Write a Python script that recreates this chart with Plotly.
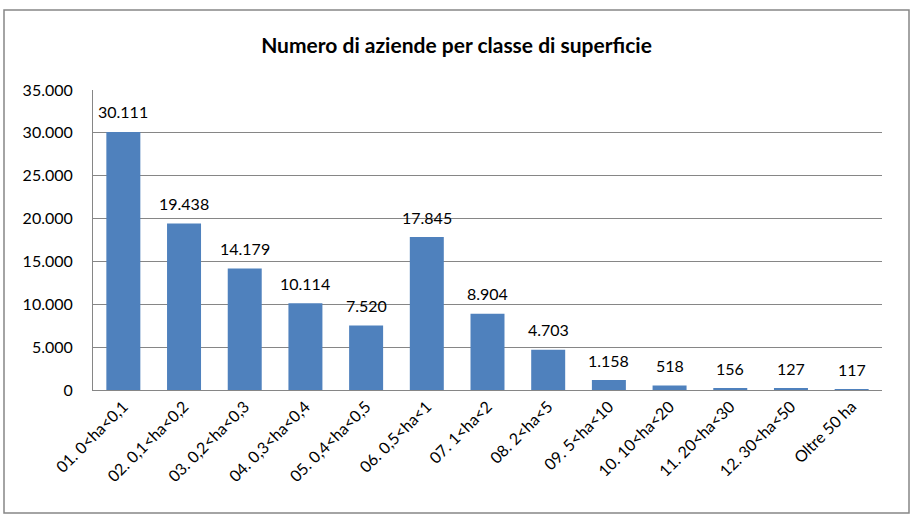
import plotly.graph_objects as go

categories = [
    "01. 0<ha<0,1", "02. 0,1<ha<0,2", "03. 0,2<ha<0,3", "04. 0,3<ha<0,4",
    "05. 0,4<ha<0,5", "06. 0,5<ha<1", "07. 1<ha<2", "08. 2<ha<5",
    "09. 5<ha<10", "10. 10<ha<20", "11. 20<ha<30", "12. 30<ha<50", "Oltre 50 ha",
]
aziende = [30111, 19438, 14179, 10114, 7520, 17845, 8904, 4703, 1158, 518, 156, 127, 117]
y_ticks = [0, 5000, 10000, 15000, 20000, 25000, 30000, 35000]

FONT = "Lato, Open Sans, sans-serif"


def fmt_it(v):
    # Italian thousands separator
    return f"{v:,d}".replace(",", ".")


fig = go.Figure(
    go.Bar(
        x=categories,
        y=aziende,
        marker=dict(color="#4F81BD", line=dict(width=0)),
        hoverinfo="x+y",
    )
)

# value labels above each bar
for cat, val in zip(categories, aziende):
    fig.add_annotation(
        x=cat,
        y=val,
        text=fmt_it(val),
        showarrow=False,
        yanchor="middle",
        yshift=20,
        font=dict(family=FONT, size=16, color="#000000"),
    )

W, H = 913, 517
ml, mr, mt, mb = 93, 31, 90, 127
pw, ph = W - ml - mr, H - mt - mb


def px_x(p):
    return (p - ml) / pw


def px_y(p):
    return (H - mb - p) / ph


fig.update_layout(
    width=W,
    height=H,
    margin=dict(l=ml, r=mr, t=mt, b=mb),
    paper_bgcolor="white",
    plot_bgcolor="white",
    separators=",.",
    bargap=0.44,
    showlegend=False,
    font=dict(family=FONT, size=16, color="#000000"),
    title=dict(
        text="<b>Numero di aziende per classe di superficie</b>",
        x=0.5,
        xanchor="center",
        y=1 - 46 / H,
        yanchor="middle",
        font=dict(family=FONT, size=21, color="#000000"),
    ),
    xaxis=dict(
        tickangle=-45,
        showgrid=False,
        showline=True,
        linecolor="#868686",
        linewidth=1,
        ticks="",
        tickfont=dict(family=FONT, size=16, color="#000000"),
    ),
    yaxis=dict(
        range=[0, 35000],
        tickvals=y_ticks,
        tickformat=",d",
        showgrid=True,
        gridcolor="#868686",
        gridwidth=1,
        showline=True,
        linecolor="#868686",
        linewidth=1,
        ticks="",
        ticklabelstandoff=16,
        zeroline=False,
        tickfont=dict(family=FONT, size=16, color="#000000"),
    ),
    shapes=[
        dict(
            type="rect",
            xref="paper",
            yref="paper",
            x0=px_x(4),
            x1=px_x(909),
            y0=px_y(513),
            y1=px_y(10),
            line=dict(color="#868686", width=1.5),
            fillcolor="rgba(0,0,0,0)",
            layer="below",
        )
    ],
)

fig.write_html("out.html")
